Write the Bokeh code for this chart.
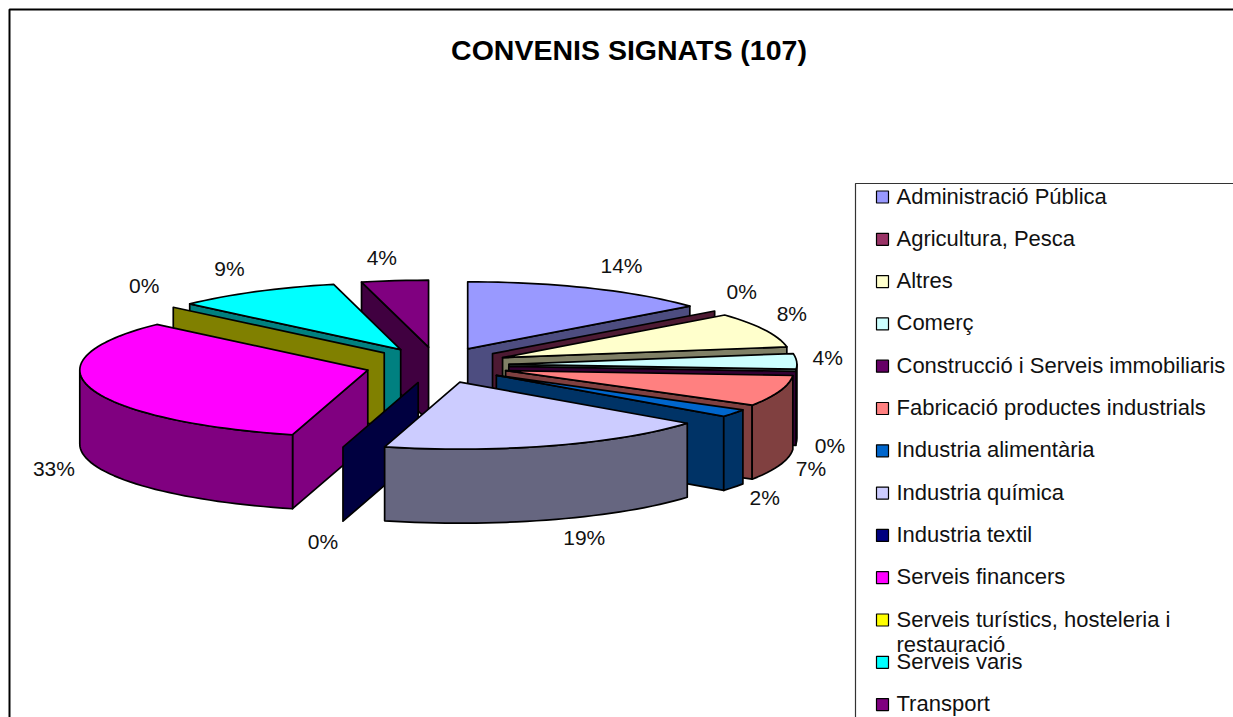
import math
from bokeh.plotting import figure
from bokeh.models import ColumnDataSource, Range1d
from bokeh.core.properties import value
from bokeh.embed import file_html
from bokeh.resources import INLINE

# ---- data
title = "CONVENIS SIGNATS (107)"
categories = ["Administració Pública", "Agricultura, Pesca", "Altres", "Comerç",
              "Construcció i Serveis immobiliaris", "Fabricació productes industrials",
              "Industria alimentària", "Industria química", "Industria textil",
              "Serveis financers", "Serveis turístics, hosteleria i\nrestauració",
              "Serveis varis", "Transport"]
counts = [15, 0, 9, 4, 0, 8, 2, 20, 0, 35, 0, 10, 4]
percent_labels = ["14%", "0%", "8%", "4%", "0%", "7%", "2%", "19%", "0%", "33%", "0%", "9%", "4%"]
colors = ["#9999FF", "#993366", "#FFFFCC", "#CCFFFF", "#660066", "#FF8080", "#0066CC",
          "#CCCCFF", "#000080", "#FF00FF", "#FFFF00", "#00FFFF", "#800080"]

# ---- layout of the projected pie (page pixels)
CX, CY = 436.5, 364.6
RX, RY = 288.0, 67.0
EX, EY = 72.0, 18.0
DEPTH = 74.0
label_nudge = [(31, -23), (27, -19), (27, -16), (31, -4), (34, 74), (31, 78), (31, 84),
               (33, 92), (-20, 94), (-37, 80), (-29, -22), (-26, -23), (-13, -23)]
draw_order = [12, 11, 10, 9, 0, 1, 2, 3, 4, 5, 6, 8, 7]
FONT = "Liberation Sans"


def darker(c):
    r, g, b = (int(c[i:i + 2], 16) for i in (1, 3, 5))
    return "#%02X%02X%02X" % ((r + 1) // 2, (g + 1) // 2, (b + 1) // 2)


total = sum(counts)
starts, cum = [], 0
for c in counts:
    starts.append(360.0 * cum / total)
    cum += c
ends = [s + 360.0 * c / total for s, c in zip(starts, counts)]
mids = [(s + e) / 2 for s, e in zip(starts, ends)]


def apex(i):
    t = math.radians(mids[i])
    return CX + EX * math.sin(t), CY - EY * math.cos(t)


def rim(i, deg):
    ax, ay = apex(i)
    t = math.radians(deg)
    return ax + RX * math.sin(t), ay - RY * math.cos(t)


def arc(i, a, b):
    n = max(1, int(abs(b - a) / 2))
    return [rim(i, a + (b - a) * k / n) for k in range(n + 1)]


xs, ys, fills = [], [], []


def add(points, fill):
    xs.append([q[0] for q in points])
    ys.append([q[1] for q in points])
    fills.append(fill)


for i in draw_order:
    side = darker(colors[i])
    ax, ay = apex(i)
    # cut faces that look towards the viewer
    faces = []
    if counts[i] == 0:
        faces = [starts[i]]
    else:
        if math.sin(math.radians(starts[i])) < 0:
            faces.append(starts[i])
        if math.sin(math.radians(ends[i])) > 0:
            faces.append(ends[i])
    for deg in faces:
        rx_, ry_ = rim(i, deg)
        add([(ax, ay), (rx_, ry_), (rx_, ry_ + DEPTH), (ax, ay + DEPTH)], side)
    if counts[i] == 0:
        continue
    # outer wall, front half only
    a, b = max(starts[i], 90.0), min(ends[i], 270.0)
    if b > a:
        top_edge = arc(i, a, b)
        add(top_edge + [(x, y + DEPTH) for x, y in reversed(top_edge)], side)
    # top surface
    add([(ax, ay)] + arc(i, starts[i], ends[i]), colors[i])

W, H = 1233, 717
p = figure(width=W, height=H, output_backend="svg", toolbar_location=None,
           x_range=Range1d(0, W), y_range=Range1d(H, 0),
           x_axis_location=None, y_axis_location=None, min_border=0,
           outline_line_color=None, background_fill_color="white")
p.grid.visible = False

# chart frame (left and top show; the others fall outside the crop)
p.line([9, 9, 1240], [730, 9, 9], line_color="black", line_width=2)

p.patches("xs", "ys", source=ColumnDataSource(dict(xs=xs, ys=ys, fill=fills)),
          fill_color="fill", line_color="black", line_width=1.7, line_join="round")

# percent labels
lx, ly = [], []
for i, m in enumerate(mids):
    t = math.radians(m)
    lx.append(CX + (EX + RX) * math.sin(t) + label_nudge[i][0])
    ly.append(CY - (EY + RY) * math.cos(t) + label_nudge[i][1])
p.text(lx, ly, text=percent_labels, text_font=value(FONT), text_font_size="21px",
       text_color="#111111", text_align="center", text_baseline="middle")

# title
p.text([628.5], [49], text=[title], text_font=value(FONT), text_font_size="28.5px",
       text_font_style="bold", text_color="black", text_align="center", text_baseline="middle")

# legend
LX, LY, STEP = 855, 195.5, 42.3
p.line([LX, LX, 1240], [730, 183, 183], line_color="#333333", line_width=1.2)
tx, ty, tt = [], [], []
for i, name in enumerate(categories):
    y = LY + i * STEP
    lines = name.split("\n")
    for k, ln in enumerate(lines):
        tx.append(896)
        ty.append(y + 25 * k)
        tt.append(ln)
sy = [LY + i * STEP + 1 for i in range(len(categories))]
p.quad(left=[876] * 13, right=[888] * 13, top=[y - 6 for y in sy], bottom=[y + 6 for y in sy],
       fill_color=colors, line_color="black", line_width=1.2)
p.text(tx, ty, text=tt, text_font=value(FONT), text_font_size="22px",
       text_color="#111111", text_align="left", text_baseline="middle")

open("out.html", "w").write(file_html(p, INLINE))
